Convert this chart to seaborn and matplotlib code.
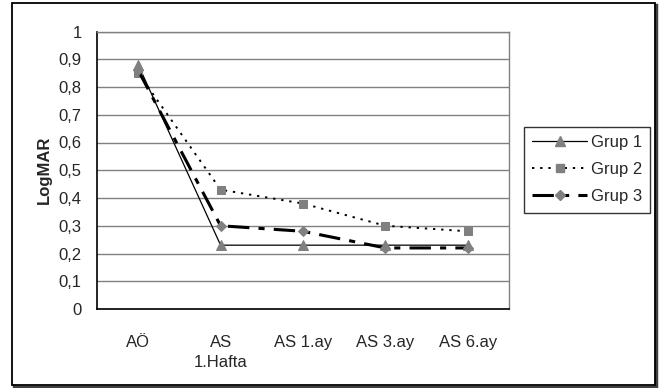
import numpy as np
import pandas as pd
import matplotlib
matplotlib.use("Agg")
import matplotlib.pyplot as plt
from matplotlib.lines import Line2D
import seaborn as sns
from matplotlib.patches import Rectangle

categories = ["AÖ", "AS\n1.Hafta", "AS 1.ay", "AS 3.ay", "AS 6.ay"]
grup1 = [0.88, 0.23, 0.23, 0.23, 0.23]
grup2 = [0.85, 0.43, 0.38, 0.30, 0.28]
grup3 = [0.86, 0.30, 0.28, 0.22, 0.22]
series_names = ["Grup 1", "Grup 2", "Grup 3"]

rows = []
for name, vals in zip(series_names, [grup1, grup2, grup3]):
    for i, v in enumerate(vals):
        rows.append({"x": i, "value": v, "Grup": name})
df = pd.DataFrame(rows)

sns.set_style("white")
plt.rcParams['font.family'] = ['Liberation Sans', 'DejaVu Sans']

W, H = 664, 388
fig = plt.figure(figsize=(W / 100, H / 100), dpi=100, facecolor="white")
ax = fig.add_axes([97 / W, 1 - 309 / H, (509 - 97) / W, (309 - 31.5) / H])
ax.set_zorder(2)

styles = {
    "Grup 1": dict(ls="-", lw=0.9, marker="^", ms=6.5),
    "Grup 2": dict(ls=(0, (1.2, 3)), lw=1.4, marker="s", ms=6),
    "Grup 3": dict(ls=(0, (7, 3, 2, 3)), lw=2.2, marker="D", ms=5.5),
}

sns.lineplot(data=df, x="x", y="value", hue="Grup", ax=ax,
             palette={n: "black" for n in series_names}, legend=False)
for line, name in zip(ax.get_lines(), series_names):
    st = styles[name]
    line.set_linestyle(st["ls"])
    line.set_linewidth(st["lw"])
    line.set_marker(st["marker"])
    line.set_markersize(st["ms"])
    line.set_markerfacecolor("#808080")
    line.set_markeredgecolor("#808080")
    line.set_color("black")

FS = 12
ax.set_xlim(-0.5, 4.5)
ax.set_ylim(0, 1)
yt = np.round(np.arange(0, 1.01, 0.1), 1)
ax.set_yticks(yt)
ax.set_yticklabels([("%g" % v).replace(".", ",") for v in yt], fontsize=FS)
ax.yaxis.grid(True, color="#808080", lw=1)
ax.set_axisbelow(True)
ax.set_xticks(np.arange(-0.5, 4.6, 1))
ax.set_xticklabels([])
ax.set_xticks(range(5), minor=True)
ax.set_xticklabels(categories, minor=True, fontsize=FS, linespacing=1.35)
ax.tick_params(axis="x", which="minor", length=0, pad=19)
ax.tick_params(axis="x", which="major", direction="out", length=5, width=1, color="black")
ax.tick_params(axis="y", direction="out", length=5, width=1, color="black", pad=6)
ax.set_xlabel("")
ax.set_ylabel("LogMAR", fontsize=FS, fontweight="bold", labelpad=5)
for s in ["top", "right"]:
    ax.spines[s].set_color("#808080")
    ax.spines[s].set_linewidth(1)
for s in ["left", "bottom"]:
    ax.spines[s].set_color("black")
    ax.spines[s].set_linewidth(1.2)

# outer chart frame (shadow + border)
fig.patches.append(Rectangle((14 / W, 1 - 386.5 / H), 642 / W, 382 / H, transform=fig.transFigure,
                             fill=False, ec="#404040", lw=2.5, zorder=0))
fig.patches.append(Rectangle((12 / W, 1 - 385 / H), 643 / W, 382 / H, transform=fig.transFigure,
                             fill=True, fc="white", ec="black", lw=1.3, zorder=0.5))

# legend
handles = []
for name in series_names:
    st = styles[name]
    handles.append(Line2D([], [], color="black", ls=st["ls"], lw=st["lw"], marker=st["marker"],
                          markersize=st["ms"], markerfacecolor="#808080",
                          markeredgecolor="#808080"))
leg = fig.legend(handles, series_names, loc="upper left",
                 bbox_to_anchor=(524 / W, 1 - 127 / H), frameon=True, fancybox=False,
                 fontsize=FS, handlelength=3.3, borderpad=0.5, labelspacing=0.72,
                 handletextpad=0.2, borderaxespad=0)
leg.get_frame().set_edgecolor("black")
leg.get_frame().set_linewidth(1)
leg.set_zorder(3)

fig.savefig("out.png", dpi=100, facecolor="white")
